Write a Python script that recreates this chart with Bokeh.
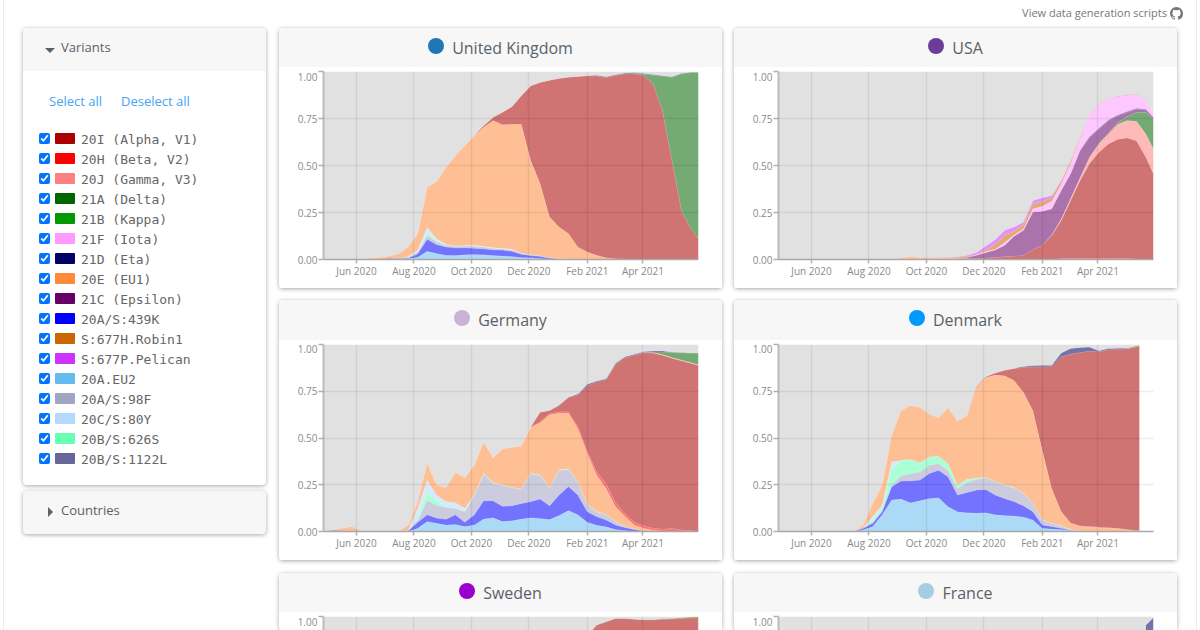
import numpy as np

from bokeh.embed import file_html
from bokeh.layouts import column, row
from bokeh.models import Div, FixedTicker, LinearAxis, Range1d
from bokeh.plotting import figure
from bokeh.resources import INLINE

# legend
VARIANTS = ["20I (Alpha, V1)", "20H (Beta, V2)", "20J (Gamma, V3)", "21A (Delta)", "21B (Kappa)",
            "21F (Iota)", "21D (Eta)", "20E (EU1)", "21C (Epsilon)", "20A/S:439K",
            "S:677H.Robin1", "S:677P.Pelican", "20A.EU2", "20A/S:98F", "20C/S:80Y",
            "20B/S:626S", "20B/S:1122L"]
VARIANT_COLORS = ["#aa0000", "#ff0000", "#ff8080", "#006600", "#009900",
                  "#ff99ff", "#000066", "#ff8a3c", "#660066", "#0000ff",
                  "#cc6600", "#cc33ff", "#66bbee", "#a3a3c2", "#b3d9ff",
                  "#66ffb3", "#666699"]
OTHER_COLOR = "#c8c8c8"

# axis
TICK_DATES = ["2020-06-01", "2020-08-01", "2020-10-01", "2020-12-01", "2021-02-01", "2021-04-01"]
TICK_LABELS = ["Jun 2020", "Aug 2020", "Oct 2020", "Dec 2020", "Feb 2021", "Apr 2021"]
Y_TICKS = [0, 0.25, 0.5, 0.75, 1]
Y_LABELS = ["0.00", "0.25", "0.50", "0.75", "1.00"]

DATES = ["2020-04-27", "2020-05-07", "2020-05-17", "2020-05-27", "2020-06-06", "2020-06-16", "2020-06-26",
         "2020-07-06", "2020-07-16", "2020-07-26", "2020-08-05", "2020-08-15", "2020-08-25", "2020-09-04",
         "2020-09-14", "2020-09-24", "2020-10-04", "2020-10-14", "2020-10-24", "2020-11-03", "2020-11-13",
         "2020-11-23", "2020-12-03", "2020-12-13", "2020-12-23", "2021-01-02", "2021-01-12", "2021-01-22",
         "2021-02-01", "2021-02-11", "2021-02-21", "2021-03-03", "2021-03-13", "2021-03-23", "2021-04-02",
         "2021-04-12", "2021-04-22", "2021-05-02", "2021-05-12", "2021-05-22", "2021-05-30"]
DK_DATES = DATES[:38] + ["2021-05-15"]

# each list is the top edge of that variant's band in the stack
UK_EU2 = [0, 0, 0, 0, 0, 0, 0, 0, 0, .005, .012, .044, .032, .023, .021, .025, .027, .025, .021, .018,
          .016, .011, .009, .005, .002, .001]
UK_439K = [0, 0, 0, 0, 0, 0, .001, .006, .004, .008, .03, .108, .08, .067, .062, .062, .06, .057, .051, .05,
           .044, .028, .021, .017, .008, .003, .002, .001]
UK_98F = [0, 0, 0, 0, 0, 0, .001, .006, .005, .012, .04, .128, .094, .076, .071, .072, .072, .067, .06, .056,
          .05, .033, .025, .019, .01, .004, .002, .001]
UK_626S = [0, 0, 0, 0, 0, 0, 0, 0, 0, .014, .045, .14, .1, .078, .072, .074, .074, .069, .062, .058,
           .052, .034, .026, .02, .011, .004, .002, .001]
UK_80Y = [0, 0, 0, 0, 0, 0, 0, 0, 0, .016, .05, .17, .11, .081, .073, .076, .076, .071, .064, .06,
          .054, .035, .027, .02, .011, .005, .002, .001]
UK_EU1 = [0, 0, 0, 0, .004, .008, .012, .018, .032, .067, .138, .385, .415, .49, .553, .606, .659, .703, .739, .717,
          .72, .72, .527, .403, .226, .173, .138, .067, .04, .023, .009, .004, .002, .001]
UK_20I = [0, 0, 0, 0, 0, 0, 0, 0, 0, 0, 0, 0, 0, 0, 0, 0, .659, .712, .756, .783,
          .813, .871, .924, .942, .954, .963, .97, .973, .977, .977,
          .968, .98, .988, .989, .98, .933, .79, .527, .26, .164, .111]
UK_21A = [0] * 33 + [.992, .987, .98, .975, .97, .988, .995, .995]
UK_21D = [0] * 28 + [.978, .98, .972, .983, .992, .995, .99, .984, .978, .972, .989, .996, .996]

USA_EU1 = [0, 0, 0, 0, 0, 0, 0, 0, 0, 0, 0, 0, .002, .008, .016, .01, .008, .008, .008, .006,
           .005, .004, .003, .002, .001]
USA_20H = [0] * 30 + [.005, .007, .008, .008, .008, .008, .007, .005, .003, .002, .002]
USA_20I = [0] * 20 + [.002, .004, .008, .012, .016, .018, .023, .053, .076, .129,
                      .208, .314, .42, .51, .57, .615, .64, .647, .632, .544, .456]
USA_20J = [0] * 29 + [.131, .215, .325, .435, .544, .615, .668, .72, .739, .735, .668, .588]
USA_21A = [0] * 34 + [.618, .672, .73, .76, .783, .783, .745]
USA_21C = [0] * 17 + [.002, .003, .006, .011, .023, .037, .05, .076, .124, .155, .253, .256, .27,
                      .367, .456, .58, .65, .694, .738, .765, .783, .8, .795, .753]
USA_21D = [0] * 33 + [.653, .698, .742, .769, .787, .804, .799, .756]
USA_21F = [0] * 18 + [.004, .007, .012, .025, .042, .055, .09, .13, .164, .27, .283, .31,
                      .4, .51, .64, .771, .825, .855, .866, .873, .878, .843, .772]
USA_677H = [0] * 16 + [.009, .009, .01, .012, .018, .027, .053, .08, .13, .15, .187, .297, .309, .33,
                       .415, .525, .648, .773, .826, .856, .867, .874, .879, .844, .773]
USA_677P = [0] * 16 + [.01, .011, .012, .015, .023, .037, .072, .106, .155, .173, .2, .314, .329, .34,
                       .42, .527, .65, .774, .827, .857, .868, .875, .88, .845, .774]

DE_EU2 = [0, 0, 0, 0, 0, 0, 0, 0, 0, .001, .018, .053, .044, .035, .037, .027, .035, .067, .073, .053,
          .058, .067, .073, .069, .064, .085, .112, .089, .05, .034, .025, .011, .005, .002]
DE_439K = [.002, .007, .004, 0, 0, 0, 0, 0, 0, .004, .05, .09, .072, .066, .089, .05, .089, .165, .165, .135,
           .138, .15, .16, .174, .138, .195, .241, .195, .106, .08, .062, .035, .021, .011, .001]
DE_98F = [0, 0, 0, 0, 0, 0, 0, 0, 0, .005, .06, .168, .14, .128, .124, .106, .195, .309, .257, .248,
          .234, .227, .309, .3, .23, .328, .333, .266, .142, .106, .089, .053, .027, .012, .002]
DE_626S = [0, 0, 0, 0, 0, 0, 0, 0, 0, .006, .07, .213, .163, .133, .128, .11, .197, .312, .26, .25,
           .235, .228, .31, .302, .231, .33, .335, .267, .143, .107, .09, .054, .028, .012, .002]
DE_80Y = [0, 0, 0, 0, 0, 0, 0, 0, 0, .008, .124, .275, .195, .16, .154, .124, .198, .313, .261, .251,
          .236, .229, .312, .304, .232, .332, .337, .268, .145, .108, .091, .055, .028, .013, .002]
DE_EU1 = [0, .007, .018, .027, .001, 0, 0, 0, 0, .035, .16, .367, .25, .235, .316, .287, .355, .48, .394, .443,
          .45, .457, .559, .582, .624, .633, .633, .55, .417, .301, .23, .133, .08, .035, .018, .007, .003, .002, .001]
DE_20H = [0] * 23 + [.59, .63, .64, .64, .56, .43, .32, .255, .155, .095, .05, .03, .018, .014, .016, .01, .005, .002]
DE_20I = [0] * 22 + [.559, .638, .647, .675, .718, .73, .78, .8,
                     .812, .895, .93, .943, .957, .954, .943, .927, .913, .9, .888]
DE_20J = [0] * 34 + [.958, .957, .947, .931, .917, .904, .892]
DE_21A = [0] * 35 + [.958, .96, .958, .955, .954, .954]
DE_21D = [0] * 27 + [.735, .787, .805, .817, .9, .935, .948, .962, .965, .965, .96, .957, .955, .954]

DK_EU2 = [0, 0, 0, 0, 0, 0, 0, 0, 0, .009, .027, .089, .168, .174, .154, .165, .177, .181, .133, .106,
          .1, .099, .1, .089, .085, .083, .078, .062, .018, .014, .011, .004, .001]
DK_439K = [0, 0, 0, 0, 0, 0, 0, 0, 0, .018, .044, .106, .239, .27, .271, .275, .31, .328, .293, .195,
           .209, .222, .225, .195, .177, .16, .138, .106, .035, .027, .018, .005, .002, .001]
DK_98F = [0, 0, 0, 0, 0, 0, 0, 0, 0, .019, .05, .115, .248, .298, .31, .319, .355, .363, .328, .23,
          .262, .28, .287, .266, .248, .234, .204, .151, .062, .044, .03, .009, .003, .001]
DK_626S = [0, 0, 0, 0, 0, 0, 0, 0, 0, .02, .06, .13, .337, .378, .385, .367, .399, .402, .363, .248,
           .278, .285, .289, .267, .249, .235, .205, .152, .063, .045, .031, .01, .003, .001]
DK_80Y = [0, 0, 0, 0, 0, 0, 0, 0, 0, .021, .08, .14, .372, .381, .386, .368, .4, .403, .364, .249,
          .279, .286, .29, .268, .25, .236, .206, .153, .064, .046, .032, .011, .004, .002]
DK_EU1 = [0, 0, 0, 0, 0, 0, 0, 0, .002, .035, .151, .248, .514, .647, .674, .665, .629, .608, .663, .59,
          .62, .771, .824, .837, .833, .807, .745, .647, .434, .23, .106, .044, .028, .025, .021, .02, .018, .011, .004]
DK_20H = [0] * 30 + [.108, .047, .031, .028, .024, .021, .018, .011, .004]
DK_20I = [0] * 21 + [.775, .828, .848, .862, .872, .878, .881, .881, .883,
                     .934, .949, .957, .965, .961, .972, .975, .977, .991]
DK_21A = [0] * 37 + [.979, .994]
DK_21D = [0] * 26 + [.882, .888, .889, .889, .954, .979, .984, .986, .966, .979, .98, .98, .996]

SE_20I = [0] * 28 + [.9, .955, .972, .99, .99, .985, .983, .983, .985, .987, .99, .993, .993]
SE_21A = [0] * 36 + [.988, .99, .994, .997, .999]
FR_21D = [0] * 39 + [.955, .995]

CARD = {"box-shadow": "0 1px 4px rgba(0,0,0,.35)", "border-radius": "4px", "background-color": "white"}
TEXT = "#5a6268"
SANS = "'Open Sans'"
FRAME_PX = 188


def ms(day):
    return np.datetime64(day, "ms").astype("int64").item()


def make_chart(dates, bands, height=221, short=False):
    p = figure(width=443, height=height, x_axis_type="datetime", output_backend="svg", toolbar_location=None,
               tools="", x_range=Range1d(ms("2020-04-27"), ms("2021-05-30")),
               y_range=Range1d(1 - 14 / FRAME_PX if short else 0, 1),
               min_border_left=44, min_border_right=24, min_border_top=4, min_border_bottom=0 if short else 29,
               margin=0)
    p.outline_line_color = None
    x = np.array(dates, dtype="datetime64[ms]")
    lower = np.zeros(len(x))
    for name, values in bands:
        top = np.zeros(len(x))
        top[:len(values)] = values
        top = np.maximum(lower, top)
        color = VARIANT_COLORS[VARIANTS.index(name)]
        p.varea(x, lower, top, fill_color=color, fill_alpha=0.55)
        edge = np.where(top > lower + 0.001, top, np.nan)
        p.line(x, edge, line_color="white", line_alpha=0.35, line_width=0.7)
        lower = top
    p.varea(x, lower, np.ones(len(x)), fill_color=OTHER_COLOR, fill_alpha=0.55)

    ticks = [ms(d) for d in TICK_DATES]
    p.xaxis.ticker = FixedTicker(ticks=ticks)
    p.xaxis.major_label_overrides = dict(zip(ticks, TICK_LABELS))
    p.yaxis.ticker = FixedTicker(ticks=Y_TICKS)
    p.yaxis.major_label_overrides = {t: "" for t in Y_TICKS}
    p.yaxis.major_label_text_font_size = "1px"
    p.yaxis.major_label_standoff = 0
    for ax in (p.xaxis, p.yaxis):
        ax.minor_tick_line_color = None
        ax.major_tick_in = 0
        ax.major_tick_out = 5
        ax.major_tick_line_color = "#b0b0b0"
        ax.major_tick_line_width = 1.5
    p.xaxis.major_tick_out = 4
    p.xaxis.major_label_standoff = 0
    p.xaxis.major_label_text_font = SANS
    p.xaxis.major_label_text_font_size = "10px"
    p.xaxis.major_label_text_color = "#8a8a8a"
    p.yaxis.axis_line_color = "#bbbbbb"
    p.yaxis.axis_line_width = 2
    p.xaxis.axis_line_color = "#a8a8a8"
    p.xaxis.axis_line_width = 1.5
    if short:
        p.xaxis.visible = False
    for grid in (p.xgrid, p.ygrid):
        grid.level = "overlay"
        grid.grid_line_color = "#000000"
        grid.grid_line_alpha = 0.07
        grid.grid_line_width = 1.5

    # the labels sit on their own axis so that the top one can hang 5px under its tick
    spots = Y_TICKS[:-1] + [1 - 5 / FRAME_PX]
    labels = LinearAxis(ticker=FixedTicker(ticks=spots), major_label_overrides=dict(zip(spots, Y_LABELS)),
                        axis_line_color=None, major_tick_line_color=None, minor_tick_line_color=None,
                        major_tick_in=0, major_tick_out=0, major_label_standoff=1, major_label_text_font=SANS,
                        major_label_text_font_size="10px", major_label_text_color="#8a8a8a")
    p.add_layout(labels, "left")
    return p


def make_card(name, dot, dates, bands, left=0, top=0, head=39, plot=221, short=False):
    text = (f'<div style="width:443px;height:40px;display:flex;align-items:center;justify-content:center;'
            f'font-family:{SANS};font-size:16px;color:{TEXT}">'
            f'<span style="display:inline-block;width:16px;height:16px;border-radius:50%;background:{dot};'
            f'margin-right:8px;position:relative;top:-2px"></span><span>{name}</span></div>')
    header = Div(text=text, width=443, height=head, margin=0,
                 styles={"background-color": "#f7f7f7", "border-radius": "4px 4px 0 0"})
    chart = make_chart(dates, bands, height=plot, short=short)
    return column(header, chart, width=443, height=head + plot, margin=(top, 0, 0, left), styles=CARD)


def variants_panel():
    rows = ""
    for i, (name, color) in enumerate(zip(VARIANTS, VARIANT_COLORS)):
        y = 105 + i * 20
        rows += (f'<input type="checkbox" checked style="position:absolute;left:16px;top:{y}px;width:11px;height:11px;'
                 f'margin:0;accent-color:#0075ff">'
                 f'<span style="position:absolute;left:32px;top:{y}px;width:20px;height:11px;border-radius:1px;'
                 f'background:{color}"></span>'
                 f'<span style="position:absolute;left:58px;top:{y - 2}px;font-family:\'DejaVu Sans Mono\';font-size:13px;'
                 f'line-height:17px;color:#666;white-space:pre">{name}</span>')
    text = (f'<div style="position:relative;width:243px;height:457px;font-family:{SANS};font-size:13px;color:{TEXT}">'
            f'<div style="position:absolute;left:0;top:0;width:243px;height:43px;background:#f7f7f7;'
            f'border-radius:4px 4px 0 0"></div>'
            f'<span style="position:absolute;left:22px;top:20px;border-style:solid;border-width:5px 5px 0 5px;'
            f'border-color:{TEXT} transparent transparent transparent"></span>'
            f'<span style="position:absolute;left:38px;top:10px;line-height:18px">Variants</span>'
            f'<span style="position:absolute;left:26px;top:64px;line-height:18px;color:#42a5f5">Select all</span>'
            f'<span style="position:absolute;left:98px;top:64px;line-height:18px;color:#42a5f5">Deselect all</span>'
            f'{rows}</div>')
    return Div(text=text, width=243, height=457, margin=(28, 0, 0, 23), styles=CARD)


def countries_panel():
    text = (f'<div style="position:relative;width:243px;height:43px;font-family:{SANS};font-size:13px;color:{TEXT}">'
            f'<span style="position:absolute;left:25px;top:16px;border-style:solid;border-width:5px 0 5px 5px;'
            f'border-color:transparent transparent transparent {TEXT}"></span>'
            f'<span style="position:absolute;left:38px;top:10px;line-height:18px">Countries</span></div>')
    return Div(text=text, width=243, height=43, margin=(6, 0, 0, 23),
               styles={**CARD, "background-color": "#f7f7f7"})


GITHUB = ("M8 0C3.58 0 0 3.58 0 8c0 3.54 2.29 6.53 5.47 7.59.4.07.55-.17.55-.38 0-.19-.01-.82-.01-1.49-2.01.37-2.53-.49"
          "-2.69-.94-.09-.23-.48-.94-.82-1.13-.28-.15-.68-.52-.01-.53.63-.01 1.08.58 1.23.82.72 1.21 1.87.87 2.33.66.07"
          "-.52.28-.87.51-1.07-1.78-.2-3.64-.89-3.64-3.95 0-.87.31-1.59.82-2.15-.08-.2-.36-1.02.08-2.12 0 0 .67-.21 2.2"
          ".82.64-.18 1.32-.27 2-.27.68 0 1.36.09 2 .27 1.53-1.04 2.2-.82 2.2-.82.44 1.1.16 1.92.08 2.12.51.56.82 1.27"
          ".82 2.15 0 3.07-1.87 3.75-3.65 3.95.29.25.54.73.54 1.48 0 1.07-.01 1.93-.01 2.2 0 .21.15.46.55.38A8.013 8.013"
          " 0 0016 8c0-4.42-3.58-8-8-8z")
link = Div(text=f'<div style="width:904px;height:20px;display:flex;justify-content:flex-end;align-items:center;'
                f'font-family:{SANS};font-size:11px;color:#777">View data generation scripts'
                f'<svg width="13" height="13" viewBox="0 0 16 16" style="margin-left:3px">'
                f'<path fill="#777" d="{GITHUB}"/></svg></div>',
           width=904, height=20, margin=(3, 0, 5, 0))

uk = make_card("United Kingdom", "#1f78b4", DATES,
               [("20A.EU2", UK_EU2), ("20A/S:439K", UK_439K), ("20A/S:98F", UK_98F), ("20B/S:626S", UK_626S),
                ("20C/S:80Y", UK_80Y), ("20E (EU1)", UK_EU1), ("20I (Alpha, V1)", UK_20I), ("21A (Delta)", UK_21A),
                ("21D (Eta)", UK_21D)])
usa = make_card("USA", "#6a3d9a", DATES,
                [("20E (EU1)", USA_EU1), ("20H (Beta, V2)", USA_20H), ("20I (Alpha, V1)", USA_20I),
                 ("20J (Gamma, V3)", USA_20J), ("21A (Delta)", USA_21A), ("21C (Epsilon)", USA_21C),
                 ("21D (Eta)", USA_21D), ("21F (Iota)", USA_21F), ("S:677H.Robin1", USA_677H),
                 ("S:677P.Pelican", USA_677P)], left=12)
germany = make_card("Germany", "#cab2d6", DATES,
                    [("20A.EU2", DE_EU2), ("20A/S:439K", DE_439K), ("20A/S:98F", DE_98F), ("20B/S:626S", DE_626S),
                     ("20C/S:80Y", DE_80Y), ("20E (EU1)", DE_EU1), ("20H (Beta, V2)", DE_20H),
                     ("20I (Alpha, V1)", DE_20I), ("20J (Gamma, V3)", DE_20J), ("21A (Delta)", DE_21A),
                     ("21D (Eta)", DE_21D)], head=40, plot=220)
denmark = make_card("Denmark", "#0099ff", DK_DATES,
                    [("20A.EU2", DK_EU2), ("20A/S:439K", DK_439K), ("20A/S:98F", DK_98F), ("20B/S:626S", DK_626S),
                     ("20C/S:80Y", DK_80Y), ("20E (EU1)", DK_EU1), ("20H (Beta, V2)", DK_20H),
                     ("20I (Alpha, V1)", DK_20I), ("21A (Delta)", DK_21A), ("21D (Eta)", DK_21D)],
                    left=12, head=40, plot=220)
sweden = make_card("Sweden", "#9900cc", DATES, [("20I (Alpha, V1)", SE_20I), ("21A (Delta)", SE_21A)],
                   head=39, plot=18, short=True)
france = make_card("France", "#a6cee3", DATES, [("21D (Eta)", FR_21D)], left=12, head=39, plot=18, short=True)

row1 = row(uk, usa, width=898, height=260, margin=0)
row2 = row(germany, denmark, width=898, height=260, margin=(12, 0, 0, 0))
row3 = row(sweden, france, width=898, height=57, margin=(13, 0, 0, 0))

left = column(variants_panel(), countries_panel(), width=266, height=630, margin=0)
right = column(link, row1, row2, row3, width=904, height=630, margin=(0, 0, 0, 13))
BORDERS = ("linear-gradient(#eee,#eee) 3px 0/1px 100% no-repeat, "
           "linear-gradient(#eee,#eee) 1196px 0/1px 100% no-repeat")
page = row(left, right, width=1200, height=630, margin=0, styles={"background": BORDERS})

open("out.html", "w").write(file_html(page, INLINE))
